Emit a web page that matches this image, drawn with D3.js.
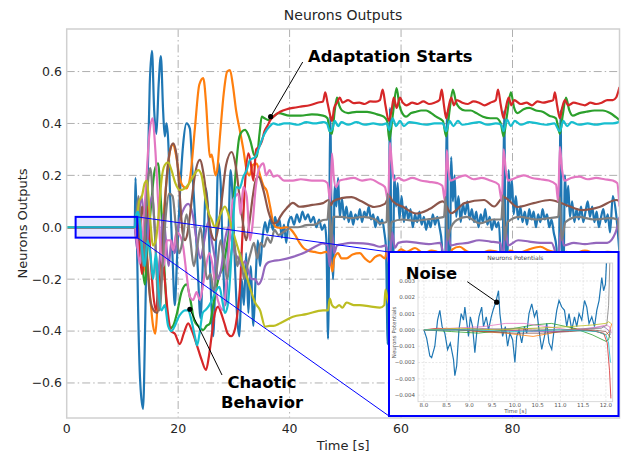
<!DOCTYPE html>
<html>
<head>
<meta charset="utf-8">
<script src="https://cdn.jsdelivr.net/npm/d3@7"></script>
<style>
  body { margin: 0; background: #fff; }
  svg { display: block; font-family: "DejaVu Sans", sans-serif; }
</style>
</head>
<body>
<svg id="chart" width="625" height="455"></svg>
<script>
// ---- data: [time, output] ----
const xTicks = [0, 20, 40, 60, 80];
const yTicks = [-0.6, -0.4, -0.2, 0, 0.2, 0.4, 0.6];

const blueLine = [
  [0,0],[12.2,0],[12.35,0.19],[12.55,0.02],[12.8,-0.3],[13.2,-0.6],[13.7,-0.70],[14.1,-0.35],[14.5,0.15],[14.9,0.55],
  [15.3,0.68],[15.7,0.45],[16.1,0.36],[16.5,0.55],[16.9,0.66],[17.3,0.45],[17.6,0.35],[17.9,0.4],[18.2,0.34],[18.6,0.1],
  [19.0,-0.12],[19.4,-0.3],[19.8,-0.12],[20.3,0.12],[20.9,0.32],[21.5,0.4],[22.1,0.38],[22.6,0.2],[23.0,0.05],[23.5,-0.15],
  [24.0,-0.35],[24.5,-0.1],[25.0,0.15],[25.4,0.05],[25.8,-0.2],[26.3,-0.42],[26.8,-0.05],[27.2,0.25],[27.6,0.18],[28.0,-0.1],
  [28.5,-0.3],[29.0,-0.05],[29.4,0.22],[29.8,0.1],[30.2,-0.15],[30.6,-0.35],[31.0,-0.42],[31.4,-0.2],[31.8,-0.3],[32.2,-0.1],
  [32.6,-0.33],[33.0,-0.15],[33.5,-0.38],[33.9,-0.2],[34.3,-0.05],[34.7,-0.15],[35.1,-0.05],[35.6,0.02],[36.0,-0.02],[36.5,0.03],
  [37.0,-0.01],[37.4,0.04],[37.8,0.0],[38.2,0.03],[38.6,-0.04],[39.0,0.01],[39.4,-0.06],[39.8,0.02],[40.3,0.04],[40.8,0.01],
  [41.3,0.05],[41.8,0.02],[42.3,0.06],[42.8,0.03],[43.3,0.05],[43.8,0.02],[44.3,0.04],[44.8,0.0],[45.3,0.03],[45.8,-0.01],
  [46.3,0.01],[46.6,-0.05],[46.9,-0.43],[47.15,0.1],[47.3,0.43],[47.55,-0.05],[47.8,-0.2],[48.1,0.16],[48.4,0.08],[48.7,0.19],
  [49.0,0.04],[49.4,0.11],[49.8,0.03],[50.2,0.08],[50.6,0.02],[51.0,0.06],[51.4,0.01],[51.8,0.05],[52.2,0.03],[52.6,0.07],
  [53.0,0.02],[53.4,0.06],[53.8,0.04],[54.2,0.08],[54.6,0.03],[55.0,0.05],[55.4,0.0],[55.8,0.04],[56.2,0.01],[56.6,0.03],
  [57.0,-0.02],[57.3,-0.08],[57.6,-0.45],[57.85,0.1],[58.0,0.46],[58.25,-0.05],[58.5,-0.3],[58.8,0.2],[59.1,0.08],[59.4,0.17],
  [59.7,0.03],[60.1,0.12],[60.5,0.02],[60.9,0.08],[61.3,0.03],[61.7,0.07],[62.1,0.0],[62.5,0.05],[62.9,0.02],[63.3,0.06],
  [63.7,0.01],[64.1,0.04],[64.5,-0.01],[64.9,0.03],[65.3,0.0],[65.7,0.05],[66.1,0.01],[66.5,0.04],[66.9,0.0],[67.3,-0.06],
  [67.8,-0.45],[68.05,0.1],[68.2,0.44],[68.45,-0.05],[68.7,-0.3],[69.0,0.27],[69.3,0.1],[69.6,0.2],[69.9,0.04],[70.3,0.12],
  [70.7,0.02],[71.1,0.09],[71.5,0.05],[71.9,0.1],[72.3,0.03],[72.7,0.07],[73.1,0.02],[73.5,0.06],[73.9,0.0],[74.3,0.05],
  [74.7,0.02],[75.1,0.07],[75.5,0.01],[75.9,0.04],[76.3,-0.01],[76.7,0.03],[77.1,0.0],[77.5,0.02],[77.8,-0.08],[78.1,-0.45],
  [78.35,0.1],[78.5,0.45],[78.75,-0.05],[79.0,-0.3],[79.3,0.22],[79.6,0.1],[79.9,0.18],[80.2,0.05],[80.6,0.12],[81.0,0.03],
  [81.4,0.08],[81.8,0.02],[82.2,0.06],[82.6,0.01],[83.0,0.07],[83.4,0.03],[83.8,0.06],[84.2,0.0],[84.6,0.05],[85.0,0.02],
  [85.4,0.07],[85.8,0.03],[86.2,0.05],[86.6,0.0],[87.0,0.03],[87.4,-0.02],[87.9,-0.08],[88.2,-0.45],[88.45,0.1],[88.6,0.45],
  [88.85,-0.05],[89.1,-0.3],[89.4,0.2],[89.7,0.08],[90.0,0.16],[90.3,0.04],[90.7,0.1],[91.1,0.02],[91.5,0.07],[91.9,0.03],
  [92.3,0.08],[92.7,0.02],[93.1,0.06],[93.5,0.1],[93.9,0.04],[94.3,0.08],[94.7,0.02],[95.1,0.06],[95.5,0.0],[95.9,0.04],
  [96.3,0.07],[96.7,0.02],[97.1,0.05],[97.5,-0.02],[98.0,0.12],[98.6,0.05],[99.2,-0.1]
];
const orangeLine = [
  [0,0],[12.2,0],[12.7,0.06],[13.2,-0.05],[13.7,-0.18],[14.3,-0.1],[14.9,-0.25],[15.5,-0.38],[15.9,-0.41],[16.3,-0.3],
  [16.8,-0.1],[17.4,0.05],[18.0,0.2],[18.6,0.3],[19.1,0.32],[19.6,0.28],[20.2,0.2],[20.8,0.16],[21.5,0.15],[22.2,0.2],
  [23.0,0.38],[23.8,0.55],[24.5,0.575],[25.0,0.48],[25.4,0.34],[25.7,0.27],[26.0,0.28],[26.3,0.25],[26.7,0.2],[27.0,0.22],
  [27.5,0.35],[28.2,0.52],[28.8,0.6],[29.3,0.606],[29.8,0.55],[30.4,0.45],[31.1,0.37],[31.7,0.3],[32.3,0.22],[32.8,0.2],
  [33.4,0.24],[34.1,0.245],[34.7,0.2],[35.3,0.16],[35.9,0.14],[36.5,0.08],[37.1,0.015],[37.6,0.0],[38.5,-0.003],[39.5,0.0],
  [40.3,-0.01],[41.0,-0.03],[41.8,-0.06],[42.5,-0.08],[43.3,-0.09],[44.5,-0.095],[45.6,-0.1],[46.5,-0.095],[47.0,-0.1],[47.4,-0.14],
  [47.7,-0.17],[48.0,-0.12],[48.7,-0.1],[49.3,-0.12],[50.2,-0.12],[51.3,-0.105],[52.6,-0.1],[53.5,-0.12],[54.4,-0.134],[55.3,-0.115],
  [56.2,-0.107],[57.1,-0.12],[57.5,-0.09],[58.0,-0.15],[58.5,-0.12],[59.2,-0.1],[60.0,-0.085],[61.0,-0.095],[62.5,-0.08],[64.0,-0.1],
  [65.5,-0.09],[67.0,-0.1],[68.4,-0.14],[69.2,-0.085],[70.5,-0.075],[72.0,-0.095],[74.0,-0.1],[76.0,-0.09],[78.0,-0.1],[78.7,-0.14],
  [79.5,-0.09],[81.0,-0.1],[83.0,-0.085],[85.0,-0.075],[86.5,-0.09],[88.2,-0.1],[88.8,-0.15],[89.6,-0.095],[91.0,-0.1],[93.0,-0.09],
  [95.0,-0.1],[97.0,-0.095],[99.2,-0.1]
];
const greenLine = [
  [0,0],[12.2,0],[12.6,-0.06],[13.0,0.04],[13.5,-0.12],[14.0,-0.22],[14.6,-0.05],[15.2,0.1],[15.8,0.22],[16.4,0.246],
  [16.9,0.1],[17.4,-0.1],[17.9,-0.3],[18.5,-0.39],[19.1,-0.38],[19.8,-0.33],[20.6,-0.25],[21.5,-0.22],[22.2,-0.28],[22.9,-0.36],
  [23.6,-0.38],[24.5,-0.396],[25.1,-0.38],[25.7,-0.37],[26.3,-0.3],[27.0,-0.22],[27.5,-0.18],[28.1,-0.15],[28.8,-0.06],[29.6,0.03],
  [30.1,0.15],[30.5,0.26],[31.0,0.35],[31.5,0.37],[32.0,0.375],[32.5,0.36],[33.0,0.33],[33.6,0.28],[34.1,0.27],[34.6,0.36],
  [35.0,0.426],[35.5,0.42],[36.2,0.413],[37.0,0.425],[38.0,0.44],[40.0,0.43],[42.0,0.43],[44.0,0.435],[46.0,0.43],[46.8,0.42],
  [47.2,0.37],[47.6,0.36],[48.1,0.45],[48.5,0.5],[48.9,0.47],[49.4,0.45],[50.5,0.44],[52.0,0.445],[53.9,0.445],[55.7,0.435],
  [56.9,0.426],[57.5,0.41],[57.9,0.336],[58.5,0.43],[59.2,0.536],[59.7,0.47],[60.2,0.44],[60.9,0.426],[61.8,0.44],[62.7,0.445],
  [63.6,0.45],[64.5,0.45],[65.4,0.44],[66.3,0.426],[67.5,0.41],[68.1,0.35],[68.7,0.45],[69.3,0.53],[69.9,0.48],[70.5,0.46],
  [71.5,0.45],[72.5,0.45],[73.5,0.44],[74.7,0.426],[76.0,0.42],[77.1,0.42],[77.9,0.4],[78.4,0.35],[79.0,0.43],[79.7,0.52],
  [80.3,0.46],[80.9,0.44],[82.0,0.455],[83.0,0.46],[84.2,0.45],[85.4,0.445],[86.6,0.43],[87.8,0.42],[88.5,0.36],[89.0,0.43],
  [89.6,0.5],[90.2,0.45],[90.8,0.43],[92.0,0.44],[93.2,0.445],[94.7,0.45],[96.2,0.45],[97.5,0.44],[98.5,0.425],[99.2,0.413]
];
const redLine = [
  [0,0],[12.2,0],[12.6,0.04],[13.0,-0.06],[13.5,-0.18],[14.0,0.0],[14.5,0.08],[15.0,-0.1],[15.5,-0.25],[16.0,-0.32],
  [16.5,-0.2],[17.0,-0.08],[17.5,-0.18],[18.1,-0.32],[18.7,-0.4],[19.4,-0.41],[20.3,-0.45],[21.0,-0.41],[21.8,-0.37],[22.5,-0.4],
  [23.3,-0.45],[24.2,-0.51],[25.0,-0.55],[25.5,-0.5],[26.0,-0.42],[26.6,-0.33],[27.2,-0.306],[27.7,-0.33],[28.3,-0.37],[28.9,-0.41],
  [29.5,-0.42],[30.1,-0.4],[30.7,-0.32],[31.1,-0.23],[31.6,0.0],[32.1,0.2],[32.6,0.285],[33.0,0.25],[33.5,0.18],[34.0,0.3],
  [34.5,0.31],[35.0,0.33],[35.5,0.37],[36.0,0.39],[36.6,0.415],[37.1,0.426],[38.3,0.445],[39.5,0.455],[40.6,0.46],[42.0,0.465],
  [43.6,0.47],[45.0,0.48],[46.0,0.485],[46.4,0.52],[46.8,0.48],[47.3,0.43],[47.6,0.41],[48.0,0.46],[48.5,0.48],[49.0,0.5],
  [49.5,0.48],[50.5,0.49],[51.5,0.478],[52.5,0.48],[53.5,0.475],[54.5,0.485],[55.5,0.484],[56.2,0.49],[56.7,0.53],[57.2,0.47],
  [57.8,0.41],[58.3,0.45],[58.7,0.5],[59.2,0.46],[59.8,0.5],[60.3,0.48],[61.0,0.47],[62.0,0.48],[63.0,0.475],[64.0,0.485],
  [65.0,0.475],[66.0,0.48],[66.9,0.49],[67.3,0.53],[67.7,0.47],[68.1,0.42],[68.5,0.46],[69.0,0.5],[69.5,0.47],[70.0,0.49],
  [71.0,0.48],[72.0,0.475],[73.0,0.485],[74.0,0.48],[75.0,0.47],[76.0,0.48],[77.0,0.49],[77.4,0.53],[77.9,0.47],[78.4,0.42],
  [78.8,0.46],[79.3,0.5],[79.8,0.47],[80.3,0.49],[81.5,0.475],[82.5,0.48],[83.5,0.47],[84.5,0.485],[85.5,0.48],[86.5,0.485],
  [87.3,0.49],[87.6,0.52],[88.0,0.47],[88.5,0.42],[88.9,0.46],[89.4,0.49],[90.0,0.47],[91.0,0.48],[92.0,0.475],[93.0,0.47],
  [94.0,0.48],[95.0,0.475],[96.0,0.48],[97.0,0.49],[98.0,0.49],[98.6,0.5],[99.2,0.54]
];
const purpleLine = [
  [0,0],[12.2,0],[12.6,-0.08],[13.0,0.05],[13.4,0.12],[13.8,0.05],[14.3,-0.1],[14.8,0.05],[15.3,0.12],[15.8,0.0],
  [16.3,-0.2],[16.8,-0.1],[17.3,0.05],[17.8,-0.05],[18.3,-0.15],[18.8,-0.05],[19.4,-0.1],[20.0,0.0],[20.8,0.06],[21.8,0.09],
  [22.6,0.05],[23.3,-0.05],[24.0,-0.12],[24.7,-0.05],[25.4,0.02],[26.0,-0.05],[26.6,-0.12],[27.2,-0.2],[27.8,-0.15],[28.4,-0.05],
  [29.0,0.0],[29.6,-0.05],[30.2,-0.1],[30.8,-0.12],[31.4,-0.15],[32.0,-0.13],[32.6,-0.17],[33.2,-0.2],[33.8,-0.2],[34.4,-0.22],
  [35.0,-0.2],[35.6,-0.15],[36.2,-0.135],[37.0,-0.13],[38.3,-0.126],[40.6,-0.114],[43.0,-0.094],[45.0,-0.07],[46.0,-0.062],[46.8,-0.07],
  [47.2,-0.15],[47.6,-0.02],[48.0,-0.1],[48.5,-0.07],[49.5,-0.065],[51.0,-0.06],[53.2,-0.062],[55.0,-0.068],[56.2,-0.075],[57.3,-0.07],
  [57.9,-0.14],[58.4,-0.02],[58.9,-0.08],[59.5,-0.06],[61.0,-0.055],[63.0,-0.06],[65.0,-0.065],[67.0,-0.06],[67.9,-0.12],[68.4,-0.01],
  [68.9,-0.07],[70.0,-0.065],[72.0,-0.06],[74.0,-0.05],[76.0,-0.055],[77.8,-0.06],[78.3,-0.12],[78.7,0.0],[79.2,-0.07],[81.0,-0.05],
  [83.0,-0.055],[85.0,-0.06],[87.0,-0.06],[88.2,-0.12],[88.7,-0.01],[89.2,-0.07],[91.0,-0.06],[93.0,-0.065],[95.0,-0.06],[97.0,-0.06],
  [98.5,-0.02],[99.2,0.04]
];
const brownLine = [
  [0,0],[12.2,0],[12.6,0.03],[13.0,-0.05],[13.5,0.08],[14.0,0.0],[14.5,-0.15],[15.0,-0.28],[15.6,-0.32],[16.2,-0.33],
  [16.8,-0.25],[17.3,-0.05],[17.8,0.15],[18.4,0.28],[19.1,0.323],[19.7,0.28],[20.3,0.12],[20.8,-0.02],[21.2,-0.05],[21.7,-0.02],
  [22.3,0.08],[23.0,0.2],[23.9,0.26],[24.6,0.2],[25.3,0.08],[25.9,-0.02],[26.6,-0.05],[27.2,0.0],[27.8,0.1],[28.6,0.24],
  [29.6,0.29],[30.3,0.24],[31.0,0.12],[31.6,0.02],[32.2,-0.05],[32.8,0.02],[33.4,0.12],[33.9,0.18],[34.4,0.195],[35.3,0.143],
  [36.2,0.06],[37.1,0.015],[37.8,0.02],[38.3,0.04],[39.5,0.074],[40.6,0.094],[41.8,0.079],[44.1,0.086],[46.0,0.093],[47.0,0.105],
  [47.4,0.085],[47.8,0.1],[49.3,0.112],[51.1,0.116],[52.9,0.1],[55.2,0.078],[57.1,0.09],[57.9,0.12],[58.5,0.1],[60.4,0.078],
  [62.7,0.053],[65.1,0.07],[67.5,0.1],[69.0,0.054],[71.4,0.093],[74.9,0.105],[76.7,0.08],[78.4,0.116],[80.9,0.078],[83.8,0.093],
  [86.7,0.105],[89.7,0.085],[92.5,0.066],[95.6,0.078],[98.6,0.105],[99.2,0.1]
];
const pinkLine = [
  [0,0],[12.2,0],[12.6,-0.05],[13.1,-0.14],[13.6,-0.05],[14.2,0.15],[14.8,0.35],[15.4,0.42],[15.9,0.3],[16.4,0.1],
  [16.9,-0.1],[17.4,-0.15],[18.0,-0.05],[18.6,-0.05],[19.1,-0.088],[19.7,-0.02],[20.3,-0.03],[20.9,-0.075],[21.5,-0.18],[22.1,-0.268],
  [22.7,-0.28],[23.3,-0.25],[23.9,-0.28],[24.5,-0.216],[25.0,-0.15],[25.6,-0.1],[26.2,-0.15],[26.8,-0.25],[27.4,-0.3],[28.1,-0.319],
  [28.7,-0.2],[29.3,-0.02],[29.8,0.1],[30.2,0.117],[30.8,0.13],[31.2,0.05],[31.7,0.156],[32.3,0.12],[32.9,-0.05],[33.3,0.0],
  [33.9,0.15],[34.6,0.23],[35.3,0.246],[35.8,0.2],[36.4,0.22],[37.1,0.195],[37.8,0.2],[39.0,0.18],[40.6,0.18],[42.0,0.185],
  [44.0,0.18],[46.0,0.18],[46.8,0.17],[47.3,0.1],[47.6,0.285],[47.9,0.2],[48.3,0.155],[49.0,0.18],[50.0,0.185],[51.5,0.19],
  [53.0,0.18],[54.5,0.185],[56.0,0.17],[57.1,0.155],[57.7,0.1],[58.0,0.325],[58.3,0.26],[58.7,0.18],[59.5,0.19],[60.5,0.18],
  [62.0,0.19],[63.5,0.18],[65.0,0.175],[66.5,0.17],[67.4,0.16],[67.9,0.1],[68.2,0.297],[68.5,0.22],[68.9,0.18],[70.0,0.19],
  [71.5,0.2],[73.0,0.185],[74.5,0.19],[76.0,0.18],[77.5,0.165],[78.1,0.1],[78.4,0.3],[78.8,0.22],[79.2,0.18],[80.5,0.19],
  [82.0,0.2],[83.5,0.19],[85.0,0.185],[86.5,0.18],[87.8,0.165],[88.2,0.1],[88.5,0.31],[88.9,0.22],[89.3,0.18],[90.5,0.19],
  [92.0,0.195],[93.5,0.185],[95.0,0.19],[96.5,0.185],[98.0,0.18],[98.8,0.17],[99.2,0.08]
];
const grayLine = [
  [0,0],[12.2,0],[12.5,0.05],[12.9,0.12],[13.3,-0.05],[13.7,-0.15],[14.2,0.05],[14.7,0.2],[15.0,0.228],[15.5,0.1],
  [16.0,-0.1],[16.4,-0.3],[16.7,-0.32],[17.2,-0.15],[17.8,0.05],[18.4,0.13],[19.0,0.12],[19.6,0.0],[20.2,-0.1],[20.8,-0.05],
  [21.5,0.05],[22.2,-0.05],[22.8,-0.15],[23.4,-0.08],[24.0,0.0],[24.6,-0.1],[25.2,-0.2],[25.8,-0.18],[26.4,-0.25],[27.0,-0.15],
  [27.6,-0.05],[28.2,-0.12],[28.8,-0.2],[29.4,-0.12],[30.0,-0.05],[30.6,-0.15],[31.2,-0.1],[31.8,-0.2],[32.4,-0.15],[33.0,-0.1],
  [33.6,-0.06],[34.2,-0.12],[34.8,-0.06],[35.4,-0.075],[36.0,-0.04],[36.6,-0.06],[37.3,-0.01],[38.0,-0.03],[38.8,-0.02],[39.5,-0.01],
  [40.2,0.0],[41.5,0.0],[43.0,0.008],[44.5,0.01],[46.0,0.028],[46.8,0.03],[47.1,0.105],[47.4,-0.075],[47.8,0.04],[49.3,0.04],
  [51.0,0.035],[53.2,0.04],[55.4,0.03],[56.2,0.015],[57.4,0.02],[57.6,0.13],[57.9,-0.05],[58.3,0.02],[60.3,0.03],[62.5,0.025],
  [64.5,0.03],[66.5,0.035],[67.7,0.04],[68.0,0.116],[68.3,-0.05],[68.8,-0.01],[70.0,0.028],[71.8,0.04],[74.1,0.015],[76.5,0.03],
  [78.0,0.03],[78.3,0.124],[78.6,-0.05],[79.1,0.02],[81.3,0.04],[84.2,0.03],[86.5,0.035],[88.2,0.04],[88.5,0.116],[88.8,-0.05],
  [89.5,0.02],[91.8,0.04],[94.6,0.03],[97.5,0.035],[98.8,0.03],[99.2,-0.04]
];
const oliveLine = [
  [0,0],[12.2,0],[12.6,0.03],[13.0,0.1],[13.5,0.12],[14.0,0.17],[14.4,0.18],[14.9,0.05],[15.5,-0.07],[16.0,-0.05],
  [16.5,0.05],[17.0,0.18],[17.6,0.24],[18.2,0.25],[18.8,0.22],[19.5,0.17],[20.3,0.143],[21.2,0.15],[22.0,0.17],[22.8,0.2],
  [23.6,0.22],[24.2,0.2],[24.8,0.12],[25.4,0.06],[26.0,0.03],[26.6,0.0],[27.2,0.028],[27.8,0.06],[28.4,0.08],[29.0,0.05],
  [29.6,0.0],[30.3,-0.05],[31.0,-0.1],[31.7,-0.15],[32.3,-0.19],[33.0,-0.24],[33.8,-0.29],[34.7,-0.32],[35.6,-0.383],[36.4,-0.38],
  [37.1,-0.38],[38.3,-0.37],[40.6,-0.345],[43.0,-0.335],[46.0,-0.32],[46.9,-0.32],[47.2,-0.275],[47.6,-0.3],[48.2,-0.31],[48.9,-0.3],
  [49.5,-0.31],[50.2,-0.29],[51.5,-0.3],[52.6,-0.3],[54.4,-0.305],[56.2,-0.31],[57.0,-0.3],[57.2,-0.24],[57.6,-0.28],[58.0,-0.3],
  [70.0,-0.3],[85.0,-0.3],[99.2,-0.3]
];
const cyanLine = [
  [0,0],[12.2,0],[12.5,0.05],[12.8,0.06],[13.2,0.0],[13.6,-0.1],[14.0,-0.15],[14.5,-0.05],[15.0,-0.1],[15.5,-0.2],
  [16.0,-0.1],[16.5,-0.25],[17.0,-0.32],[17.6,-0.3],[18.2,-0.38],[18.8,-0.4],[19.4,-0.38],[20.0,-0.35],[20.6,-0.33],[21.2,-0.32],
  [21.8,-0.32],[22.4,-0.36],[23.0,-0.42],[23.4,-0.455],[23.9,-0.4],[24.4,-0.33],[25.0,-0.317],[25.6,-0.3],[26.3,-0.27],[26.9,-0.24],
  [27.4,-0.23],[27.9,-0.28],[28.4,-0.33],[28.9,-0.3],[29.3,-0.2],[29.7,-0.05],[30.1,0.1],[30.5,0.155],[31.0,0.15],[31.7,0.195],
  [32.3,0.22],[32.9,0.26],[33.8,0.27],[34.4,0.3],[35.0,0.336],[35.9,0.375],[36.5,0.39],[37.1,0.4],[38.0,0.395],[39.0,0.4],
  [40.0,0.4],[41.5,0.395],[43.0,0.405],[44.5,0.4],[46.0,0.405],[46.7,0.4],[47.2,0.37],[47.7,0.38],[48.1,0.41],[48.7,0.39],
  [49.3,0.405],[50.5,0.395],[52.0,0.405],[53.5,0.395],[55.0,0.4],[56.5,0.395],[57.4,0.4],[57.9,0.375],[58.5,0.42],[59.1,0.39],
  [59.8,0.41],[60.5,0.39],[61.5,0.405],[63.0,0.4],[64.5,0.395],[66.0,0.4],[67.5,0.4],[68.1,0.37],[68.7,0.41],[69.4,0.39],
  [70.2,0.41],[71.0,0.395],[72.5,0.4],[74.0,0.405],[75.5,0.395],[77.0,0.4],[78.0,0.395],[78.4,0.37],[79.0,0.415],[79.7,0.39],
  [80.4,0.41],[81.5,0.395],[83.0,0.405],[84.5,0.4],[86.0,0.395],[87.5,0.4],[88.5,0.37],[89.1,0.41],[89.8,0.39],[90.6,0.405],
  [92.0,0.395],[93.5,0.4],[95.0,0.395],[96.5,0.4],[98.0,0.4],[99.2,0.406]
];

// inset: neuron potentials between 8 s and 12 s
const insetXTicks = [8.0, 8.5, 9.0, 9.5, 10.0, 10.5, 11.0, 11.5, 12.0];
const insetYTicks = [0.003, 0.002, 0.001, 0, -0.001, -0.002, -0.003, -0.004];
const insetBlue = [
  [8.0,0],[8.06,-0.0005],[8.13,-0.0016],[8.17,-0.0017],[8.24,-0.001],[8.3,0.0006],[8.35,0.0012],[8.4,0.0002],[8.46,-0.0002],[8.52,-0.0012],
  [8.58,-0.0008],[8.65,-0.0018],[8.68,-0.0028],[8.72,-0.0022],[8.77,0.0],[8.82,0.001],[8.87,0.0006],[8.9,0.0014],[8.98,-0.0004],[9.02,0.0008],
  [9.07,0.0002],[9.12,-0.0014],[9.16,-0.0002],[9.21,0.0008],[9.27,0.0014],[9.31,0.0002],[9.37,0.0008],[9.42,0.0],[9.48,0.0008],[9.53,0.0013],
  [9.58,0.0017],[9.64,0.0024],[9.67,0.001],[9.73,-0.0004],[9.79,0.0002],[9.84,-0.001],[9.89,-0.0002],[9.95,-0.0006],[10.0,-0.002],[10.04,-0.0004],
  [10.09,0.0],[10.15,-0.0008],[10.21,0.0002],[10.26,-0.0002],[10.31,0.001],[10.37,0.0016],[10.43,0.0008],[10.48,0.0012],[10.53,0.0],[10.59,-0.0012],
  [10.65,-0.0004],[10.7,0.0004],[10.75,-0.0008],[10.81,-0.0012],[10.87,0.0002],[10.92,0.0012],[10.97,0.0018],[11.03,0.0014],[11.09,0.0012],[11.14,0.0002],
  [11.19,0.001],[11.25,0.0],[11.31,0.0008],[11.36,0.0002],[11.41,0.001],[11.47,0.0006],[11.53,0.0018],[11.58,0.0014],[11.63,0.0004],[11.69,0.0008],
  [11.75,0.0002],[11.8,0.0012],[11.85,0.0018],[11.91,0.0032],[11.95,0.0024],[11.99,0.0028],[12.02,0.0045]
];
const insetOrange = [[8,0],[8.5,0.0001],[9.2,-0.0001],[9.8,-0.0002],[10.4,-0.0004],[10.8,-0.0002],[11.3,0.0001],[11.8,-0.0001],[12.0,-0.0003],[12.08,-0.0001],[12.13,0.0004]];
const insetGreen = [[8,0],[8.6,-0.0001],[9.2,-0.0002],[9.8,0.0],[10.4,0.0003],[10.8,0.0004],[11.3,0.0001],[11.7,-0.0003],[12.0,-0.0007],[12.06,-0.0006],[12.1,0.0]];
const insetRed = [[8,0],[8.3,0.0001],[8.8,0.0],[9.5,-0.0001],[10.2,0.0],[11.0,-0.0001],[11.6,0.0],[11.95,-0.0002],[12.03,-0.0008],[12.08,-0.0025],[12.11,-0.0042]];
const insetPurple = [[8,0],[8.6,0.0],[9.2,0.0001],[9.8,0.0],[10.4,-0.0001],[11.0,-0.0001],[11.6,0.0001],[11.95,0.0002],[12.05,0.0],[12.1,-0.0003]];
const insetBrown = [[8,0],[8.7,0.0],[9.3,-0.0001],[10.0,-0.0002],[10.6,-0.0002],[11.2,-0.0001],[11.7,0.0],[12.0,-0.0001],[12.06,-0.0003],[12.1,-0.0005]];
const insetPink = [[8,0],[8.6,0.0001],[9.3,0.0002],[9.8,0.0004],[10.2,0.0004],[10.7,0.0002],[11.2,0.0],[11.7,0.0001],[12.0,0.0003],[12.08,0.0002],[12.12,-0.0002]];
const insetGray = [[8,0],[9.0,0.0],[10.0,0.0001],[11.0,0.0],[11.9,0.0001],[12.02,0.0003],[12.06,0.0015],[12.09,0.0045]];
const insetOlive = [[8,0],[8.8,0.0001],[9.6,0.0],[10.4,0.0001],[11.2,0.0002],[11.7,0.0003],[12.0,0.0004],[12.06,0.0005],[12.11,0.0004]];
const insetCyan = [[8,0],[9.0,0.0],[10.0,-0.0001],[11.0,0.0],[11.8,-0.0001],[12.0,-0.0003],[12.06,-0.0008],[12.1,-0.002]];

const zoomBox = { x0: 1.6, x1: 12.66, y0: -0.04, y1: 0.04 };
const adaptPoint = [36.6, 0.426];
const chaosPoint = [22.1, -0.316];
const noisePoint = [9.6, 0.0017];

const colors = ['#1f77b4','#ff7f0e','#2ca02c','#d62728','#9467bd','#8c564b','#e377c2','#7f7f7f','#bcbd22','#17becf'];
const mainSeries = [blueLine, orangeLine, greenLine, redLine, purpleLine, brownLine, pinkLine, grayLine, oliveLine, cyanLine];
const insetSeries = [insetBlue, insetOrange, insetGreen, insetRed, insetPurple, insetBrown, insetPink, insetGray, insetOlive, insetCyan];

// ---- drawing ----
const svg = d3.select('#chart');
const M = { left: 66.7, right: 619.5, top: 29, bottom: 418 };
const x = d3.scaleLinear().domain([0, 99.2]).range([M.left, M.right]);
const y = d3.scaleLinear().domain([-0.735, 0.764]).range([M.bottom, M.top]);
const textCol = '#262626';

svg.append('rect').attr('width', 625).attr('height', 455).attr('fill', '#fff');

// grid
const grid = svg.append('g').attr('stroke', '#b0b0b0').attr('stroke-width', 1)
  .attr('stroke-dasharray', '8,3,1.5,3');
grid.selectAll('.gx').data(xTicks.filter(d => d > 0)).join('line')
  .attr('x1', d => x(d)).attr('x2', d => x(d)).attr('y1', M.top).attr('y2', M.bottom);
grid.selectAll('.gy').data(yTicks).join('line')
  .attr('x1', M.left).attr('x2', M.right).attr('y1', d => y(d)).attr('y2', d => y(d));

// clip
svg.append('clipPath').attr('id', 'plotClip').append('rect')
  .attr('x', M.left).attr('y', M.top).attr('width', M.right - M.left).attr('height', M.bottom - M.top);

// monotone curve: smooth, but flat before the onset (no overshoot)
const line = d3.line().x(d => x(d[0])).y(d => y(d[1])).curve(d3.curveMonotoneX);
svg.append('g').attr('clip-path', 'url(#plotClip)')
  .selectAll('path').data(mainSeries).join('path')
  .attr('d', line).attr('fill', 'none')
  .attr('stroke', (d, i) => colors[i]).attr('stroke-width', 2.2).attr('stroke-linejoin', 'round');

// frame
svg.append('rect').attr('x', M.left).attr('y', M.top)
  .attr('width', M.right - M.left).attr('height', M.bottom - M.top)
  .attr('fill', 'none').attr('stroke', '#d0d0d0').attr('stroke-width', 1.5);

// tick labels
const fmt1 = d3.format('.1f');
svg.append('g').selectAll('text').data(xTicks).join('text')
  .attr('x', d => x(d)).attr('y', 433).attr('text-anchor', 'middle')
  .attr('font-size', 12.5).attr('fill', textCol).text(d => d);
svg.append('g').selectAll('text').data(yTicks).join('text')
  .attr('x', 62).attr('y', d => y(d)).attr('dy', '0.35em').attr('text-anchor', 'end')
  .attr('font-size', 12.5).attr('fill', textCol).text(d => fmt1(d));

// labels + title
svg.append('text').attr('x', (M.left + M.right) / 2).attr('y', 20).attr('text-anchor', 'middle')
  .attr('font-size', 14).attr('fill', textCol).text('Neurons Outputs');
svg.append('text').attr('x', (M.left + M.right) / 2).attr('y', 450).attr('text-anchor', 'middle')
  .attr('font-size', 13).attr('fill', textCol).text('Time [s]');
svg.append('text').attr('transform', `translate(27,${(M.top + M.bottom) / 2}) rotate(-90)`)
  .attr('text-anchor', 'middle').attr('font-size', 13).attr('fill', textCol).text('Neurons Outputs');

// zoom box and connectors
const inset = { x0: 389, x1: 618.5, y0: 252, y1: 416 };
svg.append('rect')
  .attr('x', x(zoomBox.x0)).attr('y', y(zoomBox.y1))
  .attr('width', x(zoomBox.x1) - x(zoomBox.x0)).attr('height', y(zoomBox.y0) - y(zoomBox.y1))
  .attr('fill', 'blue').attr('fill-opacity', 0.1).attr('stroke', 'blue').attr('stroke-width', 2);
svg.append('line').attr('x1', x(zoomBox.x1)).attr('y1', y(zoomBox.y1)).attr('x2', inset.x0).attr('y2', inset.y0)
  .attr('stroke', 'blue').attr('stroke-width', 1);
svg.append('line').attr('x1', x(zoomBox.x1)).attr('y1', y(zoomBox.y0)).attr('x2', inset.x0).attr('y2', inset.y1)
  .attr('stroke', 'blue').attr('stroke-width', 1);

// inset figure
const ig = svg.append('g');
ig.append('rect').attr('x', inset.x0).attr('y', inset.y0)
  .attr('width', inset.x1 - inset.x0).attr('height', inset.y1 - inset.y0)
  .attr('fill', '#fff').attr('stroke', 'blue').attr('stroke-width', 2);
const IM = { left: 418, right: 612.7, top: 263, bottom: 401.7 };
const xi = d3.scaleLinear().domain([7.87, 12.15]).range([IM.left, IM.right]);
const yi = d3.scaleLinear().domain([-0.0044, 0.0041]).range([IM.bottom, IM.top]);
const ig2 = ig.append('g').attr('stroke', '#d8d8d8').attr('stroke-width', 0.6).attr('stroke-dasharray', '2,1.5');
ig2.selectAll('.a').data(insetXTicks).join('line')
  .attr('x1', d => xi(d)).attr('x2', d => xi(d)).attr('y1', IM.top).attr('y2', IM.bottom);
ig2.selectAll('.b').data(insetYTicks).join('line')
  .attr('x1', IM.left).attr('x2', IM.right).attr('y1', d => yi(d)).attr('y2', d => yi(d));
ig.append('clipPath').attr('id', 'insetClip').append('rect')
  .attr('x', IM.left).attr('y', IM.top).attr('width', IM.right - IM.left).attr('height', IM.bottom - IM.top);
const lineI = d3.line().x(d => xi(d[0])).y(d => yi(d[1]));
ig.append('g').attr('clip-path', 'url(#insetClip)')
  .selectAll('path').data(insetSeries).join('path')
  .attr('d', lineI).attr('fill', 'none')
  .attr('stroke', (d, i) => colors[i]).attr('stroke-width', (d, i) => i === 0 ? 1.2 : 0.8);
ig.append('rect').attr('x', IM.left).attr('y', IM.top)
  .attr('width', IM.right - IM.left).attr('height', IM.bottom - IM.top)
  .attr('fill', 'none').attr('stroke', '#cfcfcf').attr('stroke-width', 0.8);
const fi1 = d3.format('.1f'), fi3 = d3.format('.3f');
ig.append('g').selectAll('text').data(insetXTicks).join('text')
  .attr('x', d => xi(d)).attr('y', 407).attr('text-anchor', 'middle')
  .attr('font-size', 5.5).attr('fill', '#555').text(d => fi1(d));
ig.append('g').selectAll('text').data(insetYTicks).join('text')
  .attr('x', 415).attr('y', d => yi(d)).attr('dy', '0.35em').attr('text-anchor', 'end')
  .attr('font-size', 5.5).attr('fill', '#555').text(d => fi3(d));
ig.append('text').attr('x', (IM.left + IM.right) / 2).attr('y', 260).attr('text-anchor', 'middle')
  .attr('font-size', 6).attr('fill', '#444').text('Neurons Potentials');
ig.append('text').attr('x', (IM.left + IM.right) / 2).attr('y', 413).attr('text-anchor', 'middle')
  .attr('font-size', 5.5).attr('fill', '#555').text('Time [s]');
ig.append('text').attr('transform', `translate(396,${(IM.top + IM.bottom) / 2}) rotate(-90)`)
  .attr('text-anchor', 'middle').attr('font-size', 5.5).attr('fill', '#555').text('Neurons Potentials');

// annotations
function annotate(lines, tx, ty, anchor, from, to) {
  svg.append('line').attr('x1', from[0]).attr('y1', from[1]).attr('x2', to[0]).attr('y2', to[1])
    .attr('stroke', '#000').attr('stroke-width', 1);
  svg.append('circle').attr('cx', to[0]).attr('cy', to[1]).attr('r', 2.6).attr('fill', '#000');
  const t = svg.append('text').attr('font-size', 16.4).attr('font-weight', 'bold')
    .attr('fill', '#000').attr('text-anchor', anchor);
  lines.forEach((s, i) => t.append('tspan').attr('x', tx).attr('y', ty + i * 20).text(s));
}
annotate(['Adaptation Starts'], 308, 61.7, 'start', [302.7, 62], [x(adaptPoint[0]), y(adaptPoint[1])]);
annotate(['Chaotic', 'Behavior'], 262, 388.3, 'middle', [222, 375], [x(chaosPoint[0]), y(chaosPoint[1])]);
annotate(['Noise'], 405.7, 279.3, 'start', [467.3, 281.7], [xi(noisePoint[0]), yi(noisePoint[1])]);
</script>
</body>
</html>
